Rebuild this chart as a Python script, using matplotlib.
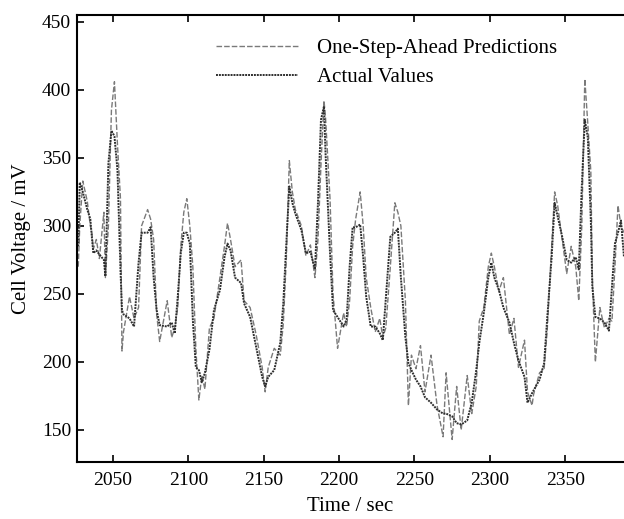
import matplotlib
matplotlib.use("Agg")
import matplotlib.pyplot as plt

plt.rcParams["font.family"] = ["Liberation Serif", "DejaVu Serif"]

# time stamps [sec] shared by both series
time_s = [2027, 2028, 2030, 2033, 2035, 2036, 2037, 2039, 2041, 2044,
          2045, 2047, 2049, 2051, 2053, 2055, 2056, 2057, 2061, 2064,
          2067, 2069, 2073, 2075, 2077, 2079, 2081, 2086, 2089, 2091,
          2093, 2095, 2097, 2099, 2101, 2103, 2105, 2107, 2109, 2111,
          2114, 2117, 2121, 2124, 2126, 2128, 2131, 2135, 2137, 2141,
          2145, 2149, 2151, 2153, 2157, 2161, 2163, 2165, 2167, 2169,
          2171, 2175, 2178, 2181, 2184, 2186, 2188, 2190, 2191, 2194,
          2196, 2199, 2203, 2205, 2207, 2209, 2211, 2214, 2216, 2218,
          2221, 2224, 2227, 2229, 2231, 2234, 2237, 2239, 2241, 2244,
          2246, 2248, 2251, 2254, 2257, 2261, 2265, 2269, 2271, 2275,
          2278, 2281, 2285, 2288, 2291, 2293, 2296, 2299, 2301, 2303,
          2306, 2309, 2313, 2316, 2319, 2323, 2325, 2328, 2329, 2333,
          2336, 2338, 2341, 2343, 2345, 2348, 2351, 2354, 2357, 2359,
          2361, 2363, 2365, 2367, 2368, 2370, 2373, 2376, 2379, 2381,
          2383, 2385, 2387, 2389]

# measured cell voltage [mV]
actual_mv = [285, 332, 325, 312, 305, 292, 280, 282, 279, 275,
             263, 346, 370, 366, 341, 268, 238, 235, 232, 226,
             273, 295, 295, 299, 262, 238, 227, 226, 229, 221,
             248, 280, 295, 295, 287, 231, 196, 194, 185, 192,
             209, 238, 253, 277, 287, 282, 262, 258, 243, 233,
             211, 189, 182, 189, 194, 214, 243, 287, 329, 317,
             309, 297, 280, 281, 268, 317, 378, 388, 354, 280,
             238, 233, 226, 231, 270, 299, 299, 301, 277, 248,
             226, 226, 221, 216, 246, 292, 295, 298, 262, 218,
             199, 194, 187, 182, 174, 170, 165, 162, 162, 160,
             155, 154, 157, 170, 194, 214, 236, 262, 273, 262,
             253, 240, 229, 214, 201, 189, 170, 177, 179, 187,
             199, 231, 277, 317, 307, 292, 275, 273, 277, 268,
             329, 378, 365, 304, 255, 233, 232, 229, 223, 255,
             287, 295, 304, 277]

# one-step-ahead model predictions [mV]
predicted_mv = [270, 300, 333, 318, 300, 295, 283, 290, 276, 310,
                262, 300, 385, 406, 360, 320, 208, 222, 248, 232,
                240, 300, 312, 305, 290, 235, 215, 245, 218, 225,
                240, 285, 310, 320, 300, 270, 210, 172, 190, 180,
                225, 232, 262, 285, 302, 290, 270, 275, 245, 240,
                220, 196, 178, 196, 210, 205, 228, 275, 348, 325,
                312, 300, 278, 286, 262, 290, 345, 392, 380, 320,
                250, 210, 236, 226, 245, 285, 305, 325, 300, 262,
                240, 222, 232, 218, 225, 270, 317, 310, 300, 245,
                168, 205, 195, 212, 178, 205, 168, 145, 192, 143,
                182, 150, 190, 162, 182, 230, 240, 270, 280, 270,
                252, 262, 220, 232, 196, 216, 178, 168, 176, 192,
                195, 222, 285, 325, 315, 290, 265, 285, 270, 245,
                300, 408, 375, 340, 262, 200, 240, 225, 232, 230,
                270, 315, 300, 295]

fig = plt.figure(figsize=(6.24, 5.19), dpi=100)
ax = fig.add_axes([0.123, 0.110, 0.877, 0.861])

ax.plot(time_s, predicted_mv, color="#7a7a7a", lw=1.0,
        ls=(0, (4, 1.5)), label="One-Step-Ahead Predictions")
ax.plot(time_s, actual_mv, color="#2e2e2e", lw=1.4,
        ls=(0, (1, 0.5)), label="Actual Values")

ax.set_xlim(2026, 2389)
ax.set_ylim(126.5, 455)
ax.set_xticks([2050, 2100, 2150, 2200, 2250, 2300, 2350])
ax.set_yticks([150, 200, 250, 300, 350, 400, 450])
ax.tick_params(direction="in", length=5, width=1.2, labelsize=14,
               top=True, right=False)
ax.tick_params(axis="x", pad=7)
ax.tick_params(axis="y", pad=4)
for side in ("left", "bottom", "top"):
    ax.spines[side].set_linewidth(1.5)
ax.spines["right"].set_visible(False)

ax.set_xlabel("Time / sec", fontsize=15, labelpad=6)
ax.set_ylabel("Cell Voltage / mV", fontsize=15, labelpad=8)

ax.legend(loc="upper left", bbox_to_anchor=(0.255, 0.948), frameon=False,
          fontsize=15, handlelength=3.9, handletextpad=0.95,
          labelspacing=0.45, borderpad=0, borderaxespad=0)

fig.savefig("out.png", dpi=100)
